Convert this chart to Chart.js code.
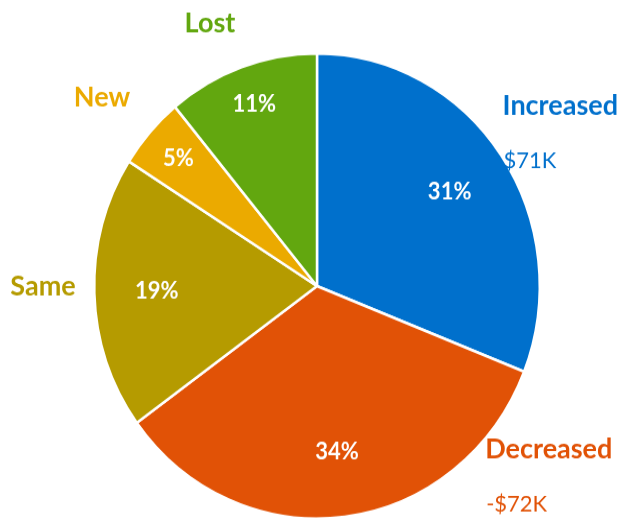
<!DOCTYPE html>
<html>
<head>
<meta charset="utf-8">
<title>Customer revenue change</title>
<script src="https://cdn.jsdelivr.net/npm/chart.js@4.4.1/dist/chart.umd.min.js"></script>
<style>
    html { overflow: hidden; }
    body { margin: 0; padding: 0; background: #ffffff; width: 624px; height: 521px; }
    /* the original picture is a little taller than wide, so stretch the canvas */
    #wrap { width: 624px; height: 499px; transform: scaleY(1.044); transform-origin: 0 0; }
</style>
</head>
<body>
<div id="wrap"><canvas id="change-chart" width="624" height="499"></canvas></div>
<script>
// data
const categories = ['Increased', 'Decreased', 'Same', 'New', 'Lost'];
const shares = [31, 34, 19, 5, 11];
const amounts = ['$71K', '-$72K', '', '', ''];

// styles
const sliceColors = ['#0070CC', '#E15206', '#B59B00', '#EBAA00', '#62A70F'];
// where each category name sits: [degrees from 12 o'clock, distance in radii]
const namePlaces = [[54.6, 1.34], [124, 1.255], [270, 1.23], [310, 1.26], [337, 1.23]];
const fontFamily = 'Lato, "Open Sans", sans-serif';

const sliceLabels = {
    id: 'sliceLabels',
    afterDatasetsDraw(chart) {
        const ctx = chart.ctx;
        const meta = chart.getDatasetMeta(0);

        ctx.save();
        ctx.textBaseline = 'middle';

        meta.data.forEach((arc, i) => {
            const p = arc.getProps(['x', 'y', 'startAngle', 'endAngle', 'outerRadius'], true);
            const mid = (p.startAngle + p.endAngle) / 2;

            // percent inside the slice
            let k = shares[i] < 12 ? 0.83 : 0.72;
            ctx.fillStyle = '#ffffff';
            ctx.textAlign = 'center';
            ctx.font = 'bold 22px ' + fontFamily;
            ctx.fillText(shares[i] + '%', p.x + Math.cos(mid) * p.outerRadius * k, p.y + Math.sin(mid) * p.outerRadius * k);

            // category name outside
            let a = (namePlaces[i][0] - 90) * Math.PI / 180;
            let lx = p.x + Math.cos(a) * p.outerRadius * namePlaces[i][1];
            let ly = p.y + Math.sin(a) * p.outerRadius * namePlaces[i][1];
            ctx.fillStyle = sliceColors[i];
            ctx.font = 'bold 27px ' + fontFamily;
            ctx.fillText(categories[i], lx, ly);

            if(amounts[i] !== ''){
                let w = ctx.measureText(categories[i]).width;
                ctx.textAlign = 'left';
                ctx.font = '22px ' + fontFamily;
                ctx.fillText(amounts[i], lx - w / 2 + 1, ly + 53);
            }
        });

        ctx.restore();
    }
};

let ctx = document.getElementById('change-chart');

let changeChart = new Chart(ctx, {
    type: 'pie',
    data: {
        labels: categories,
        datasets: [{
            data: shares,
            backgroundColor: sliceColors,
            borderColor: '#ffffff',
            borderWidth: 2.5
        }]
    },
    options: {
        responsive: false,
        animation: false,
        layout: {
            padding: { left: 93, right: 83, top: 50, bottom: 1 }
        },
        plugins: {
            legend: { display: false },
            tooltip: { enabled: false }
        }
    },
    plugins: [sliceLabels]
});
</script>
</body>
</html>
